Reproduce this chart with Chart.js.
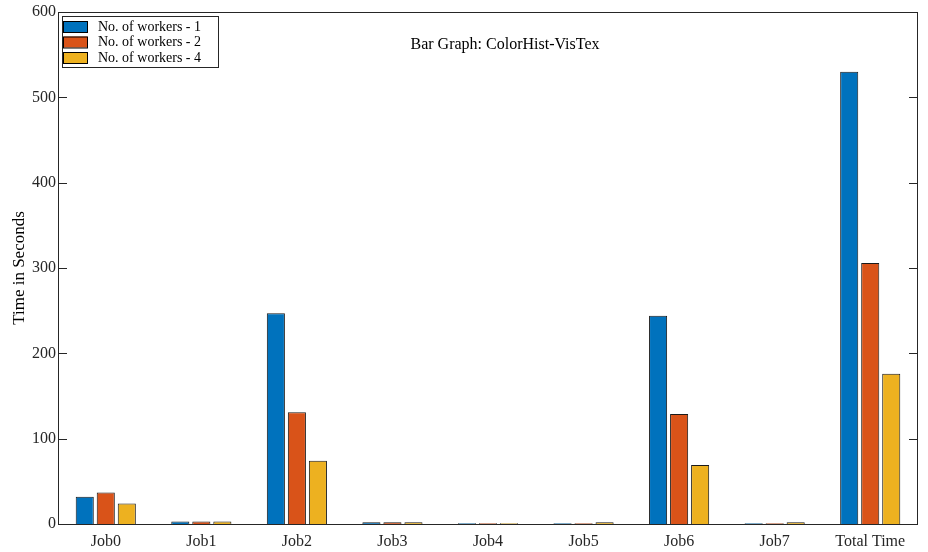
<!DOCTYPE html>
<html>
<head>
<meta charset="utf-8">
<script src="https://cdn.jsdelivr.net/npm/chart.js@4.4.0/dist/chart.umd.min.js"></script>
<style>
  html, body { margin: 0; padding: 0; background: #fff; }
  canvas { display: block; }
</style>
</head>
<body>
<canvas id="barChart" width="928" height="552"></canvas>
<script>
const jobs = ['Job0', 'Job1', 'Job2', 'Job3', 'Job4', 'Job5', 'Job6', 'Job7', 'Total Time'];
const workers1 = [32, 3, 247, 2, 1, 1, 244, 1, 530];
const workers2 = [37, 3, 131, 2, 1, 1, 129, 1, 306];
const workers4 = [24, 3, 74, 2, 1, 2, 69, 2, 176];
const seriesNames = ['No. of workers - 1', 'No. of workers - 2', 'No. of workers - 4'];
const seriesColors = ['#0072BD', '#D95319', '#EDB120'];
const yTicks = [0, 100, 200, 300, 400, 500, 600];

const FONT = '"Liberation Serif", "Times New Roman", serif';

// draws the box, inward ticks, title and legend like a MATLAB figure
const matlabFrame = {
    id: 'matlabFrame',
    afterDraw(chart) {
        const ctx = chart.ctx;
        const a = chart.chartArea;
        const y = chart.scales.y;
        ctx.save();
        ctx.strokeStyle = '#262626';
        ctx.lineWidth = 1;
        ctx.strokeRect(a.left + 0.5, a.top + 0.5, a.right - a.left - 1, a.bottom - a.top);
        yTicks.forEach(v => {
            const py = Math.round(y.getPixelForValue(v)) + 0.5;
            ctx.beginPath();
            ctx.moveTo(a.left, py); ctx.lineTo(a.left + 9, py);
            ctx.moveTo(a.right, py); ctx.lineTo(a.right - 9, py);
            ctx.stroke();
        });

        // title inside the axes
        ctx.fillStyle = '#000';
        ctx.font = '16px ' + FONT;
        ctx.textAlign = 'center';
        ctx.textBaseline = 'middle';
        ctx.fillText('Bar Graph: ColorHist-VisTex', 505, 45);

        // legend box
        ctx.font = '14px ' + FONT;
        const lx = a.left + 4, ly = a.top + 4, lw = 156, lh = 51;
        ctx.fillStyle = '#fff';
        ctx.fillRect(lx, ly, lw, lh);
        ctx.strokeStyle = '#262626';
        ctx.strokeRect(lx + 0.5, ly + 0.5, lw, lh);
        ctx.textAlign = 'left';
        chart.data.datasets.forEach((ds, i) => {
            const ry = ly + 5 + i * 15.5;
            ctx.fillStyle = ds.backgroundColor;
            ctx.fillRect(lx + 1.5, ry, 24, 11);
            ctx.strokeStyle = '#000';
            ctx.strokeRect(lx + 1.5, ry + 0.5, 24, 11);
            ctx.fillStyle = '#000';
            ctx.fillText(ds.label, lx + 36, ry + 6);
        });
        ctx.restore();
    }
};

const ctx = document.getElementById('barChart').getContext('2d');
new Chart(ctx, {
    type: 'bar',
    data: {
        labels: jobs,
        datasets: [workers1, workers2, workers4].map((d, i) => ({
            label: seriesNames[i],
            data: d,
            backgroundColor: seriesColors[i],
            borderColor: '#1a1a1a',
            borderWidth: 1,
            borderSkipped: 'start',
            categoryPercentage: 0.66,
            barPercentage: 0.86
        }))
    },
    options: {
        responsive: false,
        animation: false,
        devicePixelRatio: 1,
        layout: { padding: { top: 12, right: 10, left: 0, bottom: 0 } },
        plugins: {
            legend: { display: false },
            title: { display: false },
            tooltip: { enabled: false }
        },
        scales: {
            x: {
                grid: { display: false, drawTicks: false },
                border: { display: false },
                ticks: { color: '#262626', font: { family: FONT, size: 16 }, padding: 8, maxRotation: 0, autoSkip: false },
                afterFit(s) { s.height = 28; }
            },
            y: {
                min: 0,
                max: 600,
                grid: { display: false, drawTicks: false },
                border: { display: false },
                afterBuildTicks(s) { s.ticks = yTicks.map(v => ({ value: v })); },
                ticks: { color: '#262626', font: { family: FONT, size: 16 }, padding: 2 },
                title: {
                    display: true,
                    text: 'Time in Seconds',
                    color: '#000',
                    font: { family: FONT, size: 17 },
                    padding: { top: 9, bottom: 0 }
                },
                afterFit(s) { s.width = 58; }
            }
        }
    },
    plugins: [matlabFrame]
});
</script>
</body>
</html>
